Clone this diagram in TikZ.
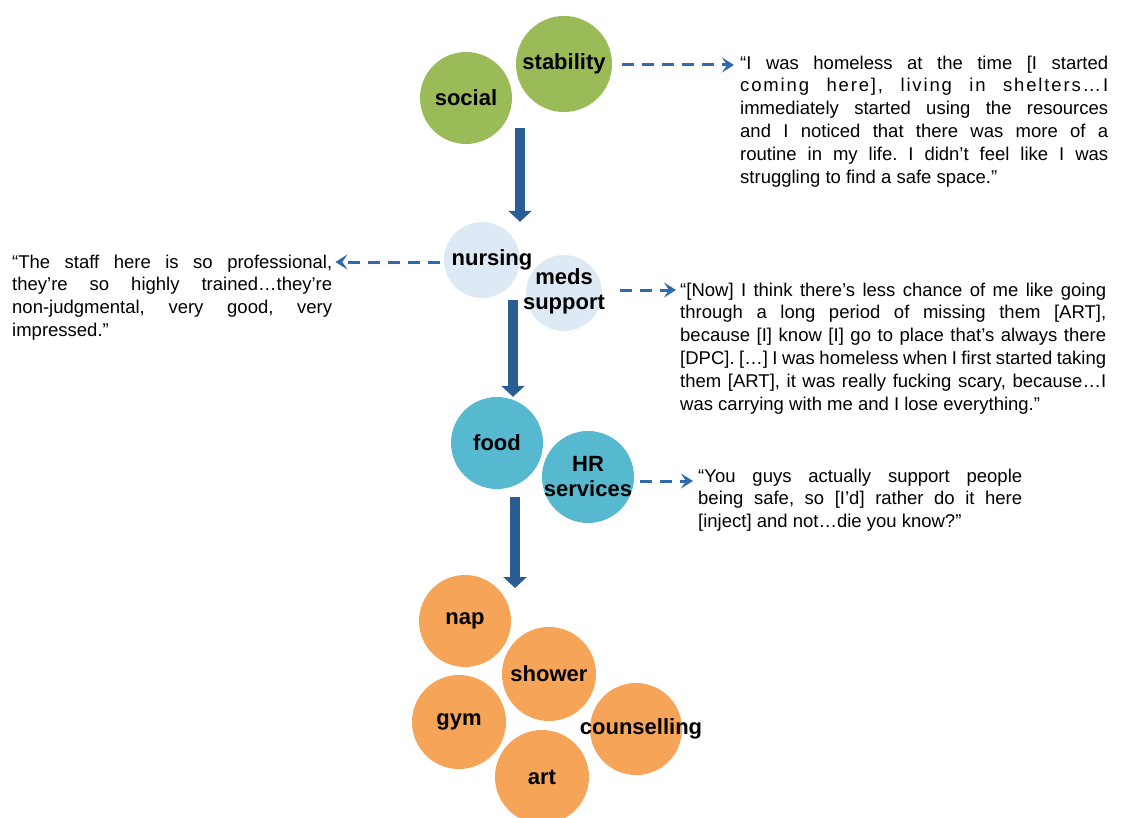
\documentclass[tikz,border=0pt]{standalone}
\usepackage{fontspec}
\setmainfont{Liberation Sans}
\usetikzlibrary{arrows.meta,calc}
\frenchspacing

\definecolor{verde}{HTML}{9BBB59}
\definecolor{celeste}{HTML}{DDEAF6}
\definecolor{turquesa}{HTML}{57B9CF}
\definecolor{naranja}{HTML}{F6A457}
\definecolor{azulflecha}{HTML}{2A5D94}
\definecolor{azulguion}{HTML}{2F6AAE}

\tikzset{
  bola/.style={circle, inner sep=0pt, minimum size=#1},
  etiqueta/.style={inner sep=0pt, align=center, font=\fontsize{22}{25}\selectfont\bfseries},
  cita/.style={inner sep=0pt, anchor=north west, align=justify, text width=#1,
    font=\fontsize{18.5}{22.8}\selectfont},
  flujo/.style={azulflecha, line width=10.5pt, -{Triangle[width=23pt,length=11pt]}},
  enlace/.style={azulguion, line width=3pt, dash pattern=on 12pt off 8pt,
    -{Stealth[length=12pt,width=15pt,inset=5pt]}},
}

\begin{document}
\begin{tikzpicture}[x=1pt, y=-1pt]
            \useasboundingbox (0,0) rectangle (1131,818);

            % Circulos verdes
            \node[bola=92pt, fill=verde, label={[etiqueta]center:social}] (social) at (466,98) {};
            \node[bola=96pt, fill=verde, label={[etiqueta]center:stability}] (stability) at (564,64) {};

            % Circulos celestes
            \node[bola=76pt, fill=celeste, label={[etiqueta, xshift=10pt]center:nursing}] (nursing) at (482,260) {};
            \node[bola=76pt, fill=celeste, label={[etiqueta, yshift=2pt]center:meds\\support}] (meds) at (564,293) {};

            % Circulos turquesa
            \node[bola=92pt, fill=turquesa, label={[etiqueta]center:food}] (food) at (497,443) {};
            \node[bola=92pt, fill=turquesa, label={[etiqueta]center:HR\\services}] (hr) at (588,477) {};

            % Circulos naranjas
            \node[bola=92pt, fill=naranja, label={[etiqueta]center:nap}] (nap) at (465,621) {};
            \node[bola=94pt, fill=naranja, label={[etiqueta]center:shower}] (shower) at (549,674) {};
            \node[bola=94pt, fill=naranja, label={[etiqueta]center:gym}] (gym) at (459,722) {};
            \node[bola=92pt, fill=naranja, label={[etiqueta, xshift=5pt]center:counselling}] (counselling) at (636,729) {};
            \node[bola=94pt, fill=naranja, label={[etiqueta]center:art}] (art) at (542,777) {};

            % Citas
            \node[cita=368pt] (q1) at (740,55.5) {“I was homeless at the time [I started\linebreak
              {\addfontfeature{LetterSpace=10}coming here], living in shelters…I}\linebreak
              immediately started using the resources\linebreak
              and I noticed that there was more of a\linebreak
              routine in my life. I didn’t feel like I was\linebreak
              struggling to find a safe space.”};
            \node[cita=320pt] (q2) at (12,254.5) {“The staff here is so professional,\linebreak
              they’re so highly trained…they’re\linebreak
              non-judgmental, very good, very\linebreak
              impressed.”};
            \node[cita=426pt] (q3) at (680,282.5) {“[Now] I think there's less chance of me like going\linebreak
              through a long period of missing them [ART],\linebreak
              because [I] know [I] go to place that’s always there\linebreak{}
              [DPC]. […] I was homeless when I first started taking\linebreak
              them [ART], it was really fucking scary, because…I\linebreak
              was carrying with me and I lose everything.”};
            \node[cita=324pt] (q4) at (698,468.5) {“You guys actually support people\linebreak
              being safe, so [I'd] rather do it here\linebreak{}
              [inject] and not…die you know?”};

            % Flechas gruesas
            \coordinate (f1) at (520,128);
            \coordinate (f2) at (513,300);
            \coordinate (f3) at (515,497);
            \coordinate (f3e) at (515,588);
            \draw[flujo] (f1) -- (f1 |- nursing.north);
            \draw[flujo] (f2) -- (f2 |- food.north);
            \draw[flujo] (f3) -- (f3e);

            % Flechas discontinuas
            \draw[enlace] ($(stability.east)+(10,1)$) -- ($(stability.east -| q1.west)+(-6,1)$);
            \draw[enlace] ($(nursing.west)+(-4,2)$) -- ($(nursing.west -| q2.east)+(3,2)$);
            \draw[enlace] ($(meds.east)+(18,-3)$) -- ($(meds.east -| q3.west)+(-4,-3)$);
            \draw[enlace] ($(hr.east)+(6,4)$) -- ($(hr.east -| q4.west)+(-5,4)$);
        \end{tikzpicture}
\end{document}
